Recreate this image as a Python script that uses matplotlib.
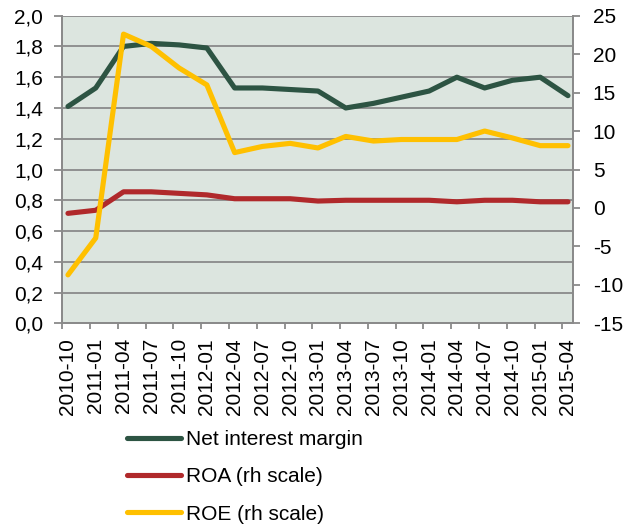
import matplotlib.pyplot as plt
import numpy as np
from matplotlib.ticker import FuncFormatter

plt.rcParams['font.family'] = ['Liberation Sans', 'DejaVu Sans']

quarters = ['2010-10', '2011-01', '2011-04', '2011-07', '2011-10', '2012-01',
            '2012-04', '2012-07', '2012-10', '2013-01', '2013-04', '2013-07',
            '2013-10', '2014-01', '2014-04', '2014-07', '2014-10', '2015-01',
            '2015-04']
nim = [1.41, 1.53, 1.80, 1.82, 1.81, 1.79, 1.53, 1.53, 1.52, 1.51, 1.40, 1.43,
       1.47, 1.51, 1.60, 1.53, 1.58, 1.60, 1.48]
roa = [-0.7, -0.3, 2.1, 2.1, 1.9, 1.7, 1.2, 1.2, 1.2, 0.9, 1.0, 1.0,
       1.0, 1.0, 0.8, 1.0, 1.0, 0.8, 0.8]
roe = [-8.7, -3.9, 22.6, 21.0, 18.2, 16.0, 7.2, 8.0, 8.4, 7.8, 9.3, 8.7,
       8.9, 8.9, 8.9, 10.0, 9.1, 8.1, 8.1]

grey = '#8a8a8a'
fs = 15

x = np.arange(len(quarters))

fig = plt.figure(figsize=(6.24, 5.26), dpi=100)
ax = fig.add_axes([0.0998, 0.3853, 0.818, 0.5849])
ax2 = ax.twinx()

ax.set_facecolor('#dce5df')
l1, = ax.plot(x, nim, color='#2d5443', lw=3.7, solid_capstyle='round',
              label='Net interest margin')
l2, = ax2.plot(x, roa, color='#b0292b', lw=3.7, solid_capstyle='round',
               label='ROA (rh scale)')
l3, = ax2.plot(x, roe, color='#ffc000', lw=3.7, solid_capstyle='round',
               label='ROE (rh scale)')

# left axis 0,0 - 2,0 with comma decimals
ax.set_ylim(0, 2)
ax.set_yticks(np.arange(0, 2.01, 0.2))
ax.yaxis.set_major_formatter(FuncFormatter(lambda v, p: f'{v:.1f}'.replace('.', ',')))
ax2.set_ylim(-15, 25)
ax2.set_yticks(np.arange(-15, 26, 5))
ax2.yaxis.set_major_formatter(FuncFormatter(lambda v, p: f'{v:.0f}'.replace('\u2212', '-')))

ax.set_xlim(-0.205, 18.17)
ax.set_xticks(x)
ax.set_xticklabels(quarters, rotation=90)
ax.set_xticks(x - 0.205, minor=True)
ax.tick_params(axis='x', which='major', length=0, pad=10.5, labelsize=fs)
ax.tick_params(axis='x', which='minor', length=4.3, width=1.3, color=grey)
ax.tick_params(axis='y', length=5.8, width=1.3, color=grey, pad=8, labelsize=fs)
ax2.tick_params(axis='y', length=5, width=1.3, color=grey, pad=9.5, labelsize=fs)

ax.grid(axis='y', color=grey, lw=1.3)
ax.set_axisbelow(True)
for a in (ax, ax2):
    a.spines['top'].set_visible(False)
    for s in ('left', 'right', 'bottom'):
        a.spines[s].set_color(grey)
        a.spines[s].set_linewidth(1.3)

fig.legend(handles=[l1, l2, l3], loc='upper left', bbox_to_anchor=(0.203, 0.182),
           frameon=False, fontsize=fs, handlelength=2.6, handletextpad=0.25,
           labelspacing=0.87, borderpad=0, borderaxespad=0)

fig.savefig('out.png', dpi=100)
